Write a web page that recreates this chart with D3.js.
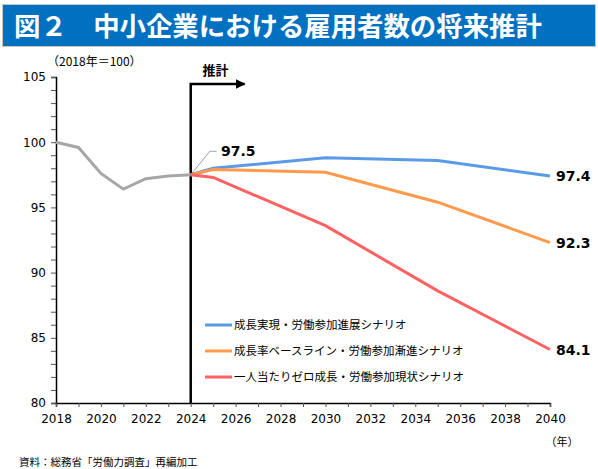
<!DOCTYPE html>
<html>
<head>
<meta charset="utf-8">
<script src="https://cdn.jsdelivr.net/npm/d3@7"></script>
<style>
  body { margin: 0; background: #fff; }
  text { font-family: "Noto Sans CJK JP", sans-serif; }
  .num { font-family: "DejaVu Sans", Verdana, sans-serif; }
</style>
</head>
<body>
<div id="chart"></div>
<script>
// data
var actualYears = [2018, 2019, 2020, 2021, 2022, 2023, 2024];
var actualValues = [100, 99.6, 97.6, 96.4, 97.2, 97.4, 97.5];

var projYears = [2024, 2025, 2030, 2035, 2040];
var growthValues = [97.5, 98.0, 98.8, 98.6, 97.4];
var baselineValues = [97.5, 97.9, 97.7, 95.4, 92.3];
var zeroValues = [97.5, 97.3, 93.6, 88.6, 84.1];

var seriesNames = [
  "成長実現・労働参加進展シナリオ",
  "成長率ベースライン・労働参加漸進シナリオ",
  "一人当たりゼロ成長・労働参加現状シナリオ"
];
var seriesColors = ["#5B9BE6", "#FF9A4D", "#FF6262"];

var xTicks = d3.range(2018, 2041, 2);
var yTicks = [80, 85, 90, 95, 100, 105];

var svgWidth = 598;
var svgHeight = 469;

var svg = d3.select("#chart")
  .append("svg")
  .attr("width", svgWidth)
  .attr("height", svgHeight);

// title banner
svg.append("rect")
  .attr("x", 2.5).attr("y", 4.5)
  .attr("width", 593).attr("height", 42)
  .attr("fill", "#0070C0")
  .attr("stroke", "#c8c8c8");

svg.append("text")
  .attr("x", 14).attr("y", 36)
  .attr("fill", "#fff")
  .attr("font-size", 26.4)
  .attr("font-weight", "bold")
  .text("図２　中小企業における雇用者数の将来推計");

var x = d3.scaleLinear().domain([2018, 2040]).range([56, 550]);
var y = d3.scaleLinear().domain([80, 105]).range([403, 77]);

// y axis
var yAxis = svg.append("g")
  .attr("transform", "translate(56,0)")
  .call(d3.axisLeft(y).tickValues(d3.range(80, 106, 1)).tickSize(5)
    .tickFormat(function(d) { return yTicks.indexOf(d) >= 0 ? d : ""; }));
yAxis.select(".domain").attr("stroke", "#000").attr("stroke-width", 1.5);
yAxis.selectAll(".tick line").attr("stroke", "#555");
yAxis.selectAll(".tick text")
  .attr("class", "num")
  .attr("x", -10)
  .attr("font-size", 12)
  .attr("fill", "#000");

// x axis
var xAxis = svg.append("g")
  .attr("transform", "translate(0,403)")
  .call(d3.axisBottom(x).tickValues(d3.range(2018, 2041, 1)).tickSize(4)
    .tickFormat(function(d) { return xTicks.indexOf(d) >= 0 ? d : ""; }));
xAxis.select(".domain").attr("stroke", "#000").attr("stroke-width", 1.5);
xAxis.selectAll(".tick line").attr("stroke", "#555");
xAxis.selectAll(".tick text")
  .attr("class", "num")
  .attr("y", 11)
  .attr("font-size", 12)
  .attr("fill", "#000");

// axis captions
svg.append("text")
  .attr("x", 47).attr("y", 66)
  .attr("font-size", 12)
  .text("（2018年＝100）");

svg.append("text")
  .attr("x", 562).attr("y", 446)
  .attr("text-anchor", "middle")
  .attr("font-size", 11)
  .text("（年）");

svg.append("text")
  .attr("x", 19).attr("y", 466)
  .attr("font-size", 10.5)
  .text("資料：総務省「労働力調査」再編加工");

// projection marker
svg.append("defs").append("marker")
  .attr("id", "arrow")
  .attr("viewBox", "0 0 10 10")
  .attr("refX", 9).attr("refY", 5)
  .attr("markerWidth", 4).attr("markerHeight", 4)
  .attr("orient", "auto")
  .append("path")
  .attr("d", "M0,0L10,5L0,10z")
  .attr("fill", "#000");

svg.append("path")
  .attr("d", `M${x(2024)},${y(80)}V84H${x(2026.4)}`)
  .attr("fill", "none")
  .attr("stroke", "#000")
  .attr("stroke-width", 2.5)
  .attr("marker-end", "url(#arrow)");

svg.append("text")
  .attr("x", x(2025.1)).attr("y", 75)
  .attr("text-anchor", "middle")
  .attr("font-size", 13)
  .attr("font-weight", "bold")
  .text("推計");

var line = d3.line()
  .x(function(d) { return x(d[0]); })
  .y(function(d) { return y(d[1]); });

// actual series
svg.append("path")
  .datum(d3.zip(actualYears, actualValues))
  .attr("d", line)
  .attr("fill", "none")
  .attr("stroke", "#A6A6A6")
  .attr("stroke-width", 3);

// projections
var projSeries = [growthValues, baselineValues, zeroValues];
projSeries.forEach(function(vals, i) {
  svg.append("path")
    .datum(d3.zip(projYears, vals))
    .attr("d", line)
    .attr("fill", "none")
    .attr("stroke", seriesColors[i])
    .attr("stroke-width", 3);

  var last = vals[vals.length - 1];
  svg.append("text")
    .attr("class", "num")
    .attr("x", x(2040) + 6)
    .attr("y", y(last) + 5)
    .attr("font-size", 14)
    .attr("font-weight", "bold")
    .text(last.toFixed(1));
});

// 2024 callout
var startVal = actualValues[actualValues.length - 1];
svg.append("path")
  .attr("d", `M${x(2024)},${y(startVal)}L${x(2024.85)},${y(99.3)}H${x(2025.15)}`)
  .attr("fill", "none")
  .attr("stroke", "#888")
  .attr("stroke-width", 0.8);

svg.append("text")
  .attr("class", "num")
  .attr("x", x(2025.35)).attr("y", y(99.3) + 5)
  .attr("font-size", 14)
  .attr("font-weight", "bold")
  .text(startVal.toFixed(1));

// legend
var legend = svg.append("g").attr("transform", "translate(205,325)");
seriesNames.forEach(function(name, i) {
  var g = legend.append("g").attr("transform", `translate(0,${i * 26})`);
  g.append("line")
    .attr("x1", 0).attr("x2", 27)
    .attr("stroke", seriesColors[i])
    .attr("stroke-width", 3);
  g.append("text")
    .attr("x", 29).attr("y", 4)
    .attr("font-size", 11.5)
    .text(name);
});
</script>
</body>
</html>
